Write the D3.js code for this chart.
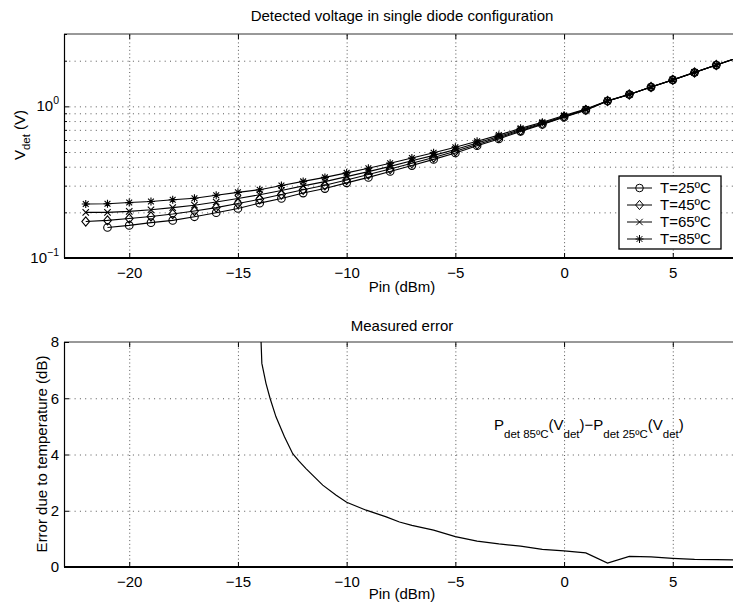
<!DOCTYPE html>
<html>
<head>
<meta charset="utf-8">
<script src="https://cdn.jsdelivr.net/npm/d3@7"></script>
<style>
body{margin:0;background:#fff;}
svg{display:block;font-family:"Liberation Sans",Arial,Helvetica,sans-serif;}
.hgrid line{stroke:#555;stroke-width:1;stroke-dasharray:1,4.3;}
.vgrid line{stroke:#555;stroke-width:1;stroke-dasharray:1,2.7;}
.grid .domain{display:none;}
.ax .domain{display:none;}
.ax line{stroke:#000;}
.ax text{font-size:15px;fill:#000;}
</style>
</head>
<body>
<svg id="chart" width="733" height="607"></svg>
<script>
// input power (dBm)
var pinAll = [-22,-21,-20,-19,-18,-17,-16,-15,-14,-13,-12,-11,-10,-9,-8,-7,-6,-5,-4,-3,-2,-1,0,1,2,3,4,5,6,7,8];
var pin25 = [-21,-20,-19,-18,-17,-16,-15,-14,-13,-12,-11,-10,-9,-8,-7,-6,-5,-4,-3,-2,-1,0,1,2,3,4,5,6,7,8];

// detected voltage (V)
var v25 = [0.159,0.164,0.171,0.177,0.187,0.199,0.212,0.230,0.247,0.268,0.287,0.313,0.340,0.372,0.407,0.447,0.493,0.550,0.610,0.684,0.759,0.847,0.944,1.084,1.197,1.340,1.493,1.671,1.871,2.089];
var v45 = [0.174,0.177,0.182,0.188,0.195,0.204,0.215,0.229,0.244,0.262,0.282,0.302,0.327,0.355,0.386,0.422,0.460,0.506,0.561,0.620,0.693,0.766,0.855,0.948,1.085,1.197,1.341,1.494,1.672,1.872,2.091];
var v65 = [0.200,0.200,0.203,0.208,0.215,0.223,0.234,0.247,0.261,0.279,0.299,0.319,0.344,0.371,0.402,0.438,0.475,0.520,0.574,0.632,0.703,0.774,0.861,0.953,1.086,1.198,1.341,1.495,1.673,1.874,2.094];
var v85 = [0.227,0.228,0.232,0.236,0.242,0.248,0.259,0.271,0.282,0.301,0.320,0.340,0.364,0.391,0.422,0.457,0.494,0.537,0.589,0.646,0.716,0.785,0.871,0.959,1.089,1.199,1.343,1.496,1.675,1.875,2.099];

// measured error 85C vs 25C (dB)
var errPin = [-13.95,-13.9,-13.71,-13.52,-13.25,-12.86,-12.48,-12.2,-11.87,-11.1,-10.48,-10,-9.1,-8.18,-7.57,-7,-6,-5,-4,-3,-2,-1,0,1,2,3,4,5,6,7,8];
var errDb = [8.3,7.24,6.53,5.99,5.34,4.63,4.03,3.77,3.5,2.91,2.55,2.3,2.02,1.78,1.6,1.48,1.31,1.08,0.92,0.82,0.74,0.63,0.57,0.5,0.14,0.38,0.36,0.31,0.27,0.26,0.25];

var xTicks = [-20,-15,-10,-5,0,5];
var logMajor = [0.1,1];
var logMinor = [0.2,0.3,0.4,0.5,0.6,0.7,0.8,0.9,2,3];
var errTicks = [0,2,4,6,8];
var legendNames = ['T=25ºC','T=45ºC','T=65ºC','T=85ºC'];

var svg = d3.select('#chart');
var left = 64, right = 738;
var top1 = 34, bot1 = 258, top2 = 342, bot2 = 567;
var fs = 15, fsSub = 11.5;

var x = d3.scaleLinear().domain([-23,8]).range([left,right]);
var y1 = d3.scaleLog().domain([0.1,3]).range([bot1,top1]);
var y2 = d3.scaleLinear().domain([0,8]).range([bot2,top2]);

var sym = {
	circle: 'M3.8,0A3.8,3.8,0,1,1,-3.8,0A3.8,3.8,0,1,1,3.8,0Z',
	diamond: 'M0,-4.6L3.9,0L0,4.6L-3.9,0Z',
	cross: 'M-3.2,-3.2L3.2,3.2M-3.2,3.2L3.2,-3.2',
	star: 'M-4,0H4M0,-4V4M-2.9,-2.9L2.9,2.9M-2.9,2.9L2.9,-2.9'
};

var series = [
	{name:legendNames[0], px:pin25, v:v25, m:sym.circle},
	{name:legendNames[1], px:pinAll, v:v45, m:sym.diamond},
	{name:legendNames[2], px:pinAll, v:v65, m:sym.cross},
	{name:legendNames[3], px:pinAll, v:v85, m:sym.star}
];

svg.append('defs').append('clipPath').attr('id','clip2')
	.append('rect').attr('x',left).attr('y',top2).attr('width',right-left).attr('height',bot2-top2);

function frame(yTop,yBot){
	// grid
	svg.append('g').attr('class','grid vgrid').attr('transform','translate(0,'+yBot+')')
		.call(d3.axisBottom(x).tickValues(xTicks).tickSize(-(yBot-yTop)).tickFormat(''));
	// x ticks bottom + top
	svg.append('g').attr('class','ax').attr('transform','translate(0,'+yBot+')')
		.call(d3.axisBottom(x).tickValues(xTicks).tickSize(-5).tickPadding(9));
	svg.append('g').attr('class','ax').attr('transform','translate(0,'+yTop+')')
		.call(d3.axisTop(x).tickValues(xTicks).tickSize(-5).tickFormat(''));
	svg.append('line').attr('x1',left).attr('x2',right).attr('y1',yTop).attr('y2',yTop).attr('stroke','#333').attr('stroke-width',1);
	svg.append('line').attr('x1',left+0.5).attr('x2',left+0.5).attr('y1',yTop).attr('y2',yBot).attr('stroke','#000').attr('stroke-width',1.2);
	svg.append('line').attr('x1',left).attr('x2',right).attr('y1',yBot).attr('y2',yBot).attr('stroke','#000').attr('stroke-width',2.2);
}

function title(txt,yy){
	svg.append('text').attr('x',402).attr('y',yy).attr('text-anchor','middle').attr('font-size',fs).text(txt);
}

// ---------- top plot ----------
svg.append('g').attr('class','grid hgrid').attr('transform','translate('+left+',0)')
	.call(d3.axisLeft(y1).tickValues(logMajor.concat(logMinor).filter(d => d > 0.1 && d < 3)).tickSize(-(right-left)).tickFormat(''));
frame(top1,bot1);
svg.append('g').attr('class','ax').attr('transform','translate('+left+',0)')
	.call(d3.axisLeft(y1).tickValues(logMajor).tickSize(-5).tickFormat(''));
svg.append('g').attr('class','ax').attr('transform','translate('+left+',0)')
	.call(d3.axisLeft(y1).tickValues(logMinor).tickSize(-3).tickFormat(''));

logMajor.forEach(function(d){
	var t = svg.append('text').attr('x',59).attr('y',y1(d)+5).attr('text-anchor','end').attr('font-size',fs);
	t.append('tspan').text('10');
	t.append('tspan').attr('dy',-7).attr('font-size',10.5).text(d3.format('d')(Math.log10(d)).replace('-','−'));
});

title('Detected voltage in single diode configuration',21);

var line1 = d3.line().x(d => x(d[0])).y(d => y1(d[1]));
series.forEach(function(s){
	var pts = s.px.map((p,i) => [p,s.v[i]]);
	svg.append('path').attr('d',line1(pts)).attr('fill','none').attr('stroke','#000').attr('stroke-width',1.1);
	svg.append('g').selectAll('path').data(pts).enter().append('path')
		.attr('transform',d => 'translate('+x(d[0])+','+y1(d[1])+')')
		.attr('d',s.m).attr('fill','none').attr('stroke','#000').attr('stroke-width',1.1);
});

// legend
var lg = svg.append('g').attr('transform','translate(619,176)');
lg.append('rect').attr('width',102).attr('height',73).attr('fill','#fff').attr('stroke','#000').attr('stroke-width',1.3);
series.forEach(function(s,i){
	var yy = 12 + i*17;
	lg.append('line').attr('x1',8).attr('x2',33).attr('y1',yy).attr('y2',yy).attr('stroke','#000');
	lg.append('path').attr('transform','translate(20.5,'+yy+')').attr('d',s.m).attr('fill','none').attr('stroke','#000');
	lg.append('text').attr('x',41).attr('y',yy+5).attr('font-size',fs).text(s.name);
});

var yl = svg.append('text').attr('transform','translate(25,135) rotate(-90)').attr('text-anchor','middle').attr('font-size',fs);
yl.append('tspan').text('V');
yl.append('tspan').attr('dy',5).attr('font-size',fsSub).text('det');
yl.append('tspan').attr('dy',-5).text(' (V)');

svg.append('text').attr('x',402).attr('y',292).attr('text-anchor','middle').attr('font-size',fs).text('Pin (dBm)');

// ---------- bottom plot ----------
svg.append('g').attr('class','grid hgrid').attr('transform','translate('+left+',0)')
	.call(d3.axisLeft(y2).tickValues([2,4,6]).tickSize(-(right-left)).tickFormat(''));
frame(top2,bot2);
svg.append('g').attr('class','ax').attr('transform','translate('+left+',0)')
	.call(d3.axisLeft(y2).tickValues(errTicks).tickSize(-5).tickPadding(5));

title('Measured error',331);

var line2 = d3.line().x(d => x(d[0])).y(d => y2(d[1]));
svg.append('path').attr('clip-path','url(#clip2)')
	.attr('d',line2(errPin.map((p,i) => [p,errDb[i]])))
	.attr('fill','none').attr('stroke','#000').attr('stroke-width',1.2);

var ann = svg.append('text').attr('x',494).attr('y',430).attr('font-size',fs);
ann.append('tspan').text('P');
ann.append('tspan').attr('dy',8).attr('font-size',fsSub).text('det 85ºC');
ann.append('tspan').attr('dy',-8).text('(V');
ann.append('tspan').attr('dy',8).attr('font-size',fsSub).text('det');
ann.append('tspan').attr('dy',-8).text(')−P');
ann.append('tspan').attr('dy',8).attr('font-size',fsSub).text('det 25ºC');
ann.append('tspan').attr('dy',-8).text('(V');
ann.append('tspan').attr('dy',8).attr('font-size',fsSub).text('det');
ann.append('tspan').attr('dy',-8).text(')');

svg.append('text').attr('transform','translate(47,454) rotate(-90)').attr('text-anchor','middle').attr('font-size',fs).text('Error due to temperature (dB)');
svg.append('text').attr('x',402).attr('y',599).attr('text-anchor','middle').attr('font-size',fs).text('Pin (dBm)');
</script>
</body>
</html>
